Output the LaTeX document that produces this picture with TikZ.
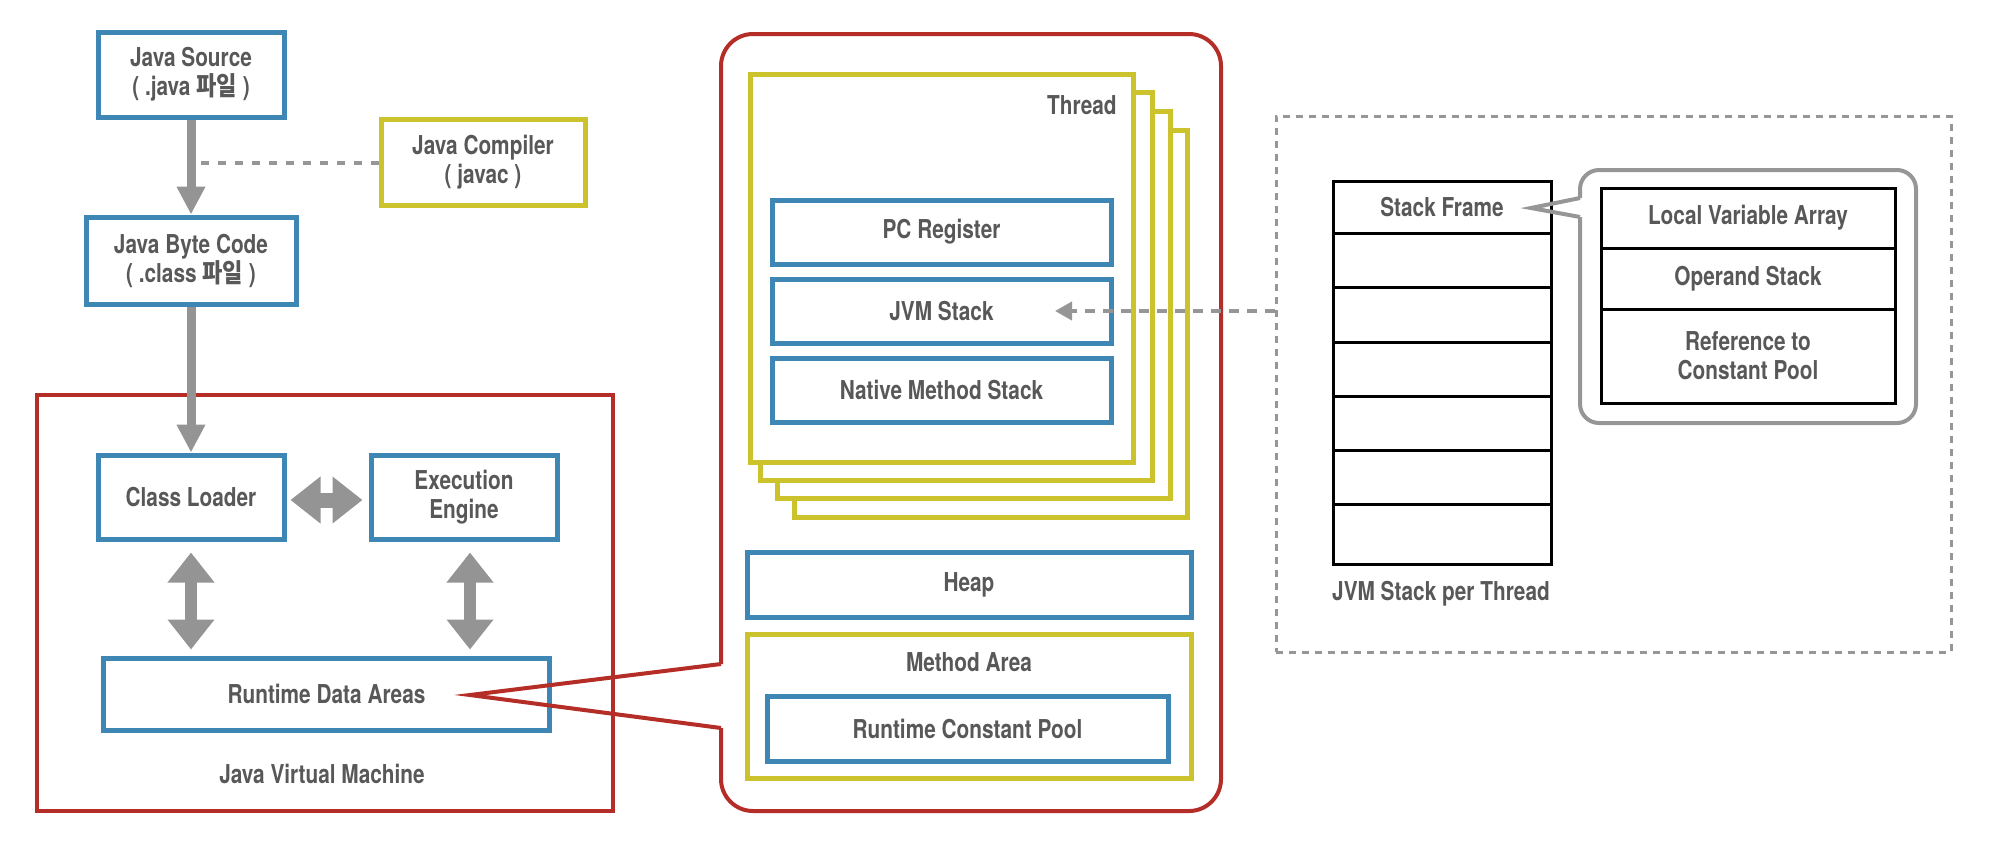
\documentclass[tikz,border=0pt]{standalone}
\usepackage{fontspec}
\setmainfont{TeX Gyre Heros}[FakeStretch=0.8]
\newfontfamily\krfont{Noto Sans CJK KR}[FakeStretch=0.85]
\usetikzlibrary{arrows.meta}
\definecolor{jblue}{RGB}{62,135,180}
\definecolor{jyellow}{RGB}{204,194,43}
\definecolor{jred}{RGB}{180,45,38}
\definecolor{agray}{RGB}{148,148,148}
\definecolor{tgray}{RGB}{88,88,88}
\definecolor{cgray}{RGB}{150,150,150}
\newcommand{\lblfont}{\fontsize{13}{14.5}\selectfont\bfseries}
\begin{document}
\begin{tikzpicture}[x=0.5pt,y=-0.5pt,
  base/.style={fill=white, text=tgray, font=\lblfont, align=center, inner sep=0pt},
  bbox/.style={base, draw=jblue, line width=2.5pt},
  ybox/.style={base, draw=jyellow, line width=2.5pt},
  rbox/.style={draw=jred, line width=2pt},
  kbox/.style={base, draw=black, line width=1.5pt},
  lbl/.style={text=tgray, font=\lblfont, align=center, inner sep=0pt},
  bigarrow/.style={draw=agray, line width=4.5pt, -{Triangle[length=14pt,width=13.5pt]}},
  dblv/.style={draw=agray, line width=5.75pt, {Triangle[length=15pt,width=22.5pt]}-{Triangle[length=15pt,width=22.5pt]}, shorten <=5.5pt, shorten >=3pt},
  dblh/.style={draw=agray, line width=7.5pt, {Triangle[length=15pt,width=22.5pt]}-{Triangle[length=15pt,width=22.5pt]}, shorten <=2pt, shorten >=3pt},
  dashline/.style={draw=cgray, line width=2pt, dash pattern=on 4pt off 4.5pt},
  dasharrow/.style={draw=cgray, line width=2pt, dash pattern=on 5pt off 4pt, -{Triangle[length=8.5pt,width=9pt]}},
  redline/.style={draw=jred, line width=2pt, line join=miter},
  callout/.style={draw=cgray, line width=2pt}
]
\useasboundingbox (0,0) rectangle (2000,848);

% ---------- left column ----------
\node[bbox, minimum width=93pt, minimum height=42.5pt] (src) at (191,74.5) {Java Source\\( .java {\krfont\bfseries 파일} )};
\node[ybox, minimum width=102pt, minimum height=43pt] (compiler) at (483,162.5) {Java Compiler\\( javac )};
\node[bbox, minimum width=105pt, minimum height=43.5pt] (byte) at (191,260.5) {Java Byte Code\\( .class {\krfont\bfseries 파일} )};
\coordinate (cmpjoin) at (198,163);
\draw[dashline] (compiler.west) -- (compiler.west -| cmpjoin);
\draw[bigarrow] (src.south) -- (byte.north);

\node[rbox, minimum width=288pt, minimum height=208pt] (jvm) at (325,603) {};
\node[bbox, minimum width=93pt, minimum height=42pt] (loader) at (191,497) {Class Loader};
\node[bbox, minimum width=93pt, minimum height=42pt] (engine) at (464,497) {Execution\\Engine};
\node[bbox, minimum width=223pt, minimum height=36pt] (rda) at (326.5,694) {Runtime Data Areas};
\node[lbl] (jvmlbl) at (322,774) {Java Virtual Machine};
\draw[bigarrow] (byte.south) -- (loader.north);
\draw[dblh] ([yshift=-1.5pt]loader.east) -- ([yshift=-1.5pt]engine.west);
\draw[dblv] (loader.south) -- (loader.south |- rda.north);
\draw[dblv] ([xshift=3pt]engine.south) -- ([xshift=3pt]engine.south |- rda.north);

% ---------- middle bubble ----------
\coordinate (rdatip) at (470,695);
\coordinate (bubA) at (721,664);
\coordinate (bubB) at (721,728);
\draw[redline, rounded corners=16pt] (bubA) -- (721,34) -- (1221,34) -- (1221,811) -- (721,811) -- (bubB);
\draw[redline] (bubA) -- (rdatip) -- (bubB);

\node[ybox, minimum width=196.5pt, minimum height=193.5pt] (t4) at (990.5,323.5) {};
\node[ybox, minimum width=196.5pt, minimum height=193.5pt] (t3) at (973.5,304.5) {};
\node[ybox, minimum width=196pt, minimum height=194pt] (t2) at (956,286) {};
\node[ybox, minimum width=191.5pt, minimum height=194pt] (t1) at (941.5,268) {};
\node[lbl, anchor=east] (threadlbl) at (1117,105) {Thread};
\node[bbox, minimum width=169.5pt, minimum height=32pt] (pc) at (941.5,232) {PC Register};
\node[bbox, minimum width=169.5pt, minimum height=32pt] (jvms) at (941.5,311) {JVM Stack};
\node[bbox, minimum width=169.5pt, minimum height=32pt] (native) at (941.5,390) {Native Method Stack};

\node[bbox, minimum width=222pt, minimum height=32.5pt] (heap) at (969,584.5) {Heap};
\node[ybox, minimum width=222pt, minimum height=72pt] (method) at (969,706) {};
\node[lbl] (methodlbl) at (969,662) {Method Area};
\node[bbox, minimum width=200.5pt, minimum height=32.5pt] (rcp) at (967.5,728.5) {Runtime Constant Pool};

% ---------- right panel ----------
\node[draw=cgray, line width=1.5pt, dash pattern=on 3.5pt off 3pt, minimum width=337.5pt, minimum height=268pt] (frame) at (1613.5,384) {};
\coordinate (jvmtip) at (1055,311);
\draw[dasharrow] (frame.west |- jvmtip) -- (jvmtip);

\node[kbox, minimum width=109pt, minimum height=26pt] (s1) at (1442,207) {Stack Frame};
\node[kbox, minimum width=109pt, minimum height=27pt] (s2) at (1442,260) {};
\node[kbox, minimum width=109pt, minimum height=27.5pt] (s3) at (1442,314.5) {};
\node[kbox, minimum width=109pt, minimum height=27pt] (s4) at (1442,369) {};
\node[kbox, minimum width=109pt, minimum height=27pt] (s5) at (1442,423) {};
\node[kbox, minimum width=109pt, minimum height=27pt] (s6) at (1442,477) {};
\node[kbox, minimum width=109pt, minimum height=30pt] (s7) at (1442,534) {};
\node[lbl] (stacklbl) at (1441,594) {JVM Stack per Thread};

\coordinate (sftip) at (1531,208);
\coordinate (coA) at (1580,198);
\coordinate (coB) at (1580,217);
\draw[callout, rounded corners=9.5pt] (coA) -- (1580,170) -- (1916,170) -- (1916,423) -- (1580,423) -- (coB);
\draw[callout, line join=miter] (coA) -- (sftip) -- (coB);

\node[kbox, minimum width=147pt, minimum height=30pt] (lva) at (1748,218) {Local Variable Array};
\node[kbox, minimum width=147pt, minimum height=30.5pt] (ops) at (1748,278.5) {Operand Stack};
\node[kbox, minimum width=147pt, minimum height=47pt] (refcp) at (1748,356) {Reference to\\Constant Pool};
\end{tikzpicture}
\end{document}
